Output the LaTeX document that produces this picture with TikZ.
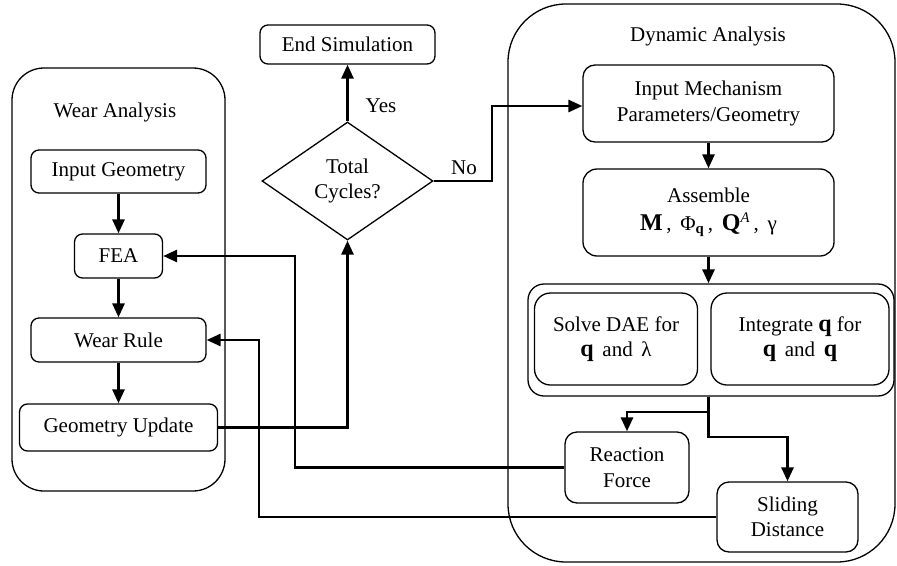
\documentclass[tikz,border=0pt]{standalone}
\usepackage{fontspec}
\setmainfont{Liberation Serif}
\usetikzlibrary{shapes.geometric,arrows.meta}
\newcommand\boldq{{\fontsize{24}{25}\selectfont\textbf{q}}}
\newcommand\boldL[1]{{\fontsize{24}{25}\selectfont\textbf{#1}}}
\begin{document}
\begin{tikzpicture}[x=1pt,y=-1pt,
  txt/.style={font=\fontsize{21}{25.5}\selectfont},
  box/.style={draw,line width=1.3pt,rounded corners=8pt,align=center,inner sep=0pt,txt},
  container/.style={draw,line width=1.3pt,inner sep=0pt},
  flow/.style={line width=2.8pt,-{Triangle[length=14pt,width=12pt]}},
  lbl/.style={txt,inner sep=0pt}]
\fill[white] (0,0) rectangle (897,565);
\useasboundingbox (0,0) rectangle (897,565);
% containers
\node[container,rounded corners=32pt,minimum width=213pt,minimum height=423pt] (wear) at (118.5,279.5) {};
\node[container,rounded corners=58pt,minimum width=387pt,minimum height=558pt] (dyn) at (701.5,283) {};
\node[lbl] (wearlbl) at (115,112) {Wear Analysis};
\node[lbl] (dynlbl) at (708,36) {Dynamic Analysis};
% wear analysis
\node[box,minimum width=175pt,minimum height=43pt] (ingeo) at (118.5,171.5) {Input Geometry};
\node[box,minimum width=88pt,minimum height=44pt] (fea) at (118.5,256) {FEA};
\node[box,minimum width=175pt,minimum height=44pt] (wrule) at (118.5,340) {Wear Rule};
\node[box,minimum width=198pt,minimum height=47pt] (gupd) at (118.5,427.5) {Geometry Update};
% decision
\node[box,minimum width=175pt,minimum height=39pt] (endsim) at (347.5,44.5) {End Simulation};
\node[draw,line width=1.3pt,diamond,aspect=1.45,inner sep=0pt,minimum width=171pt,minimum height=118pt,align=center,txt] (dec) at (347.5,181) {Total\\Cycles?};
\node[lbl] (yes) at (381,106) {Yes};
\node[lbl] (no) at (464,168) {No};
\coordinate (nojog) at (492,106);
% dynamic analysis
\node[box,minimum width=251pt,minimum height=77pt,rounded corners=12pt] (inmech) at (708.5,103.5) {Input Mechanism\\Parameters/Geometry};
\node[box,minimum width=251pt,minimum height=87pt,rounded corners=14pt] (assem) at (708.5,212.5) {Assemble\\[2pt]\boldL{M}\,, \,Φ\textsubscript{\textbf{q}}\,, \,\boldL{Q}\textsuperscript{\textit{A}}\,, \,γ};
\node[container,rounded corners=16pt,minimum width=366pt,minimum height=112pt] (grp) at (711,340) {};
\node[box,rounded corners=16pt,minimum width=163pt,minimum height=92pt] (solve) at (616,339) {Solve DAE for\\\boldq{}\, and\, λ};
\node[box,rounded corners=16pt,minimum width=178pt,minimum height=92pt] (integ) at (800,339) {Integrate \boldq{} for\\\boldq{}\, and\, \boldq};
\node[box,rounded corners=12pt,minimum width=124pt,minimum height=71pt] (react) at (627,467.5) {Reaction\\Force};
\node[box,rounded corners=12pt,minimum width=141pt,minimum height=70pt] (slide) at (787.5,517) {Sliding\\Distance};
\coordinate (br) at (708.5,412);
\coordinate (br2) at (708.5,437);
\coordinate (fx) at (295,256);
\coordinate (sx) at (259,340);
% connectors
\draw[flow] (ingeo) -- (fea);
\draw[flow] (fea) -- (wrule);
\draw[flow] (wrule) -- (gupd);
\draw[flow] (dec) -- (endsim);
\draw[flow] (dec.east) -| (nojog) -- (inmech.west |- nojog);
\draw[flow] (inmech) -- (assem);
\draw[flow] (assem.south) -- (assem.south |- grp.north);
\draw[flow] (assem.south |- grp.south) -- (br) -| (react.north);
\draw[flow] (br) -- (br2) -| (slide.north);
\draw[flow] (react.west) -| (fx) -- (fea.east);
\draw[flow] (slide.west) -| (sx) -- (wrule.east);
\draw[flow] (gupd.east) -| (dec.south);
\end{tikzpicture}
\end{document}
